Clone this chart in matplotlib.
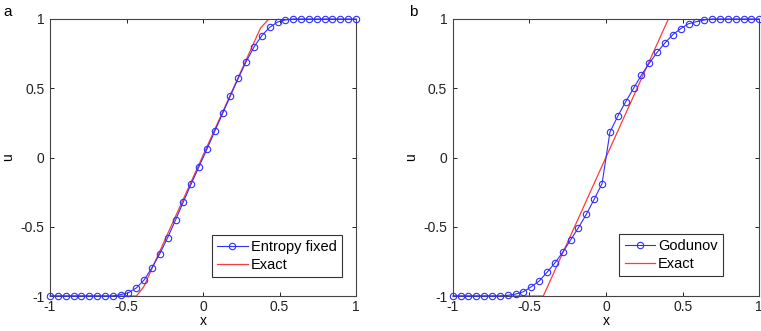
import numpy as np
import matplotlib
matplotlib.use("Agg")
import matplotlib.pyplot as plt
from matplotlib.ticker import FuncFormatter

plt.rcParams['font.family'] = ['Liberation Sans', 'DejaVu Sans']
plt.rcParams['axes.unicode_minus'] = False

# ---- data ----
x_grid = np.linspace(-1, 1, 40)

entropy_fixed = [-1, -1, -1, -1, -1, -1, -1, -1, -1,
                 -0.990, -0.976, -0.942, -0.884, -0.795, -0.694, -0.578,
                 -0.451, -0.320, -0.190, -0.065, 0.060, 0.190, 0.318,
                 0.446, 0.573, 0.692, 0.798, 0.880, 0.940, 0.978, 0.993,
                 1, 1, 1, 1, 1, 1, 1, 1, 1]

godunov = [-1, -1, -1, -1, -1, -1, -1,
           -0.995, -0.986, -0.969, -0.933, -0.892, -0.829, -0.761,
           -0.684, -0.595, -0.506, -0.410, -0.301, -0.188, 0.183,
           0.299, 0.402, 0.499, 0.595, 0.680, 0.759, 0.827, 0.887,
           0.930, 0.966, 0.981, 0.993, 1, 1, 1, 1, 1, 1, 1]

exact_a_x = [-1, -0.435, -0.387, 0.376, 0.430, 1]
exact_a_u = [-1, -1, -0.933, 0.935, 1, 1]

exact_b_x = [-1, -0.409, 0.407, 1]
exact_b_u = [-1, -1, 1, 1]

ticks = [-1, -0.5, 0, 0.5, 1]
panel_labels = ['a', 'b']
legend_labels = [['Entropy fixed', 'Exact'], ['Godunov', 'Exact']]

W, H = 761, 331
fig = plt.figure(figsize=(W / 100, H / 100), dpi=100)

ax_a = fig.add_axes([50 / W, (H - 296) / H, 306 / W, 277 / H])
ax_b = fig.add_axes([452.7 / W, (H - 296) / H, 306.6 / W, 277 / H])

blue = '#2f2fff'
red = '#ff3a3a'

fmt = FuncFormatter(lambda v, p: ('%g' % v))

def style(ax):
    ax.set_xlim(-1, 1)
    ax.set_ylim(-1, 1)
    ax.set_xticks(ticks)
    ax.set_yticks(ticks)
    ax.xaxis.set_major_formatter(fmt)
    ax.yaxis.set_major_formatter(fmt)
    ax.tick_params(direction='in', length=3, width=0.7, top=True, right=True,
                   labelsize=10, colors='#222222')
    ax.tick_params(axis='y', pad=4)
    ax.tick_params(axis='x', pad=3)
    for s in ax.spines.values():
        s.set_color('#444444')
        s.set_linewidth(0.8)
    ax.set_xlabel('x', fontsize=10, labelpad=0)
    ax.set_ylabel('u', fontsize=10, labelpad=4)

for ax, yvals, ex, eu, labs, anchor in [
        (ax_a, entropy_fixed, exact_a_x, exact_a_u, legend_labels[0], (0.953, 0.068)),
        (ax_b, godunov, exact_b_x, exact_b_u, legend_labels[1], (0.881, 0.072))]:
    lr, = ax.plot(ex, eu, '-', color=red, lw=0.9, zorder=2)
    lb, = ax.plot(x_grid, yvals, '-o', color=blue, lw=0.8, ms=4.6,
                  mfc='none', mec=blue, mew=0.8, zorder=3, clip_on=False)
    style(ax)
    leg = ax.legend([lb, lr], labs, loc='lower right', bbox_to_anchor=anchor,
                    borderaxespad=0, fancybox=False, framealpha=1,
                    edgecolor='#333333', fontsize=10.5, handlelength=2.1,
                    handletextpad=0.2, labelspacing=0.25, borderpad=0.35)
    leg.get_frame().set_linewidth(0.8)

fig.text(8 / W, 1 - 12 / H, panel_labels[0], fontsize=11, ha='center', va='center')
fig.text(413 / W, 1 - 12 / H, panel_labels[1], fontsize=11, ha='center', va='center')

fig.savefig('out.png', dpi=100)
